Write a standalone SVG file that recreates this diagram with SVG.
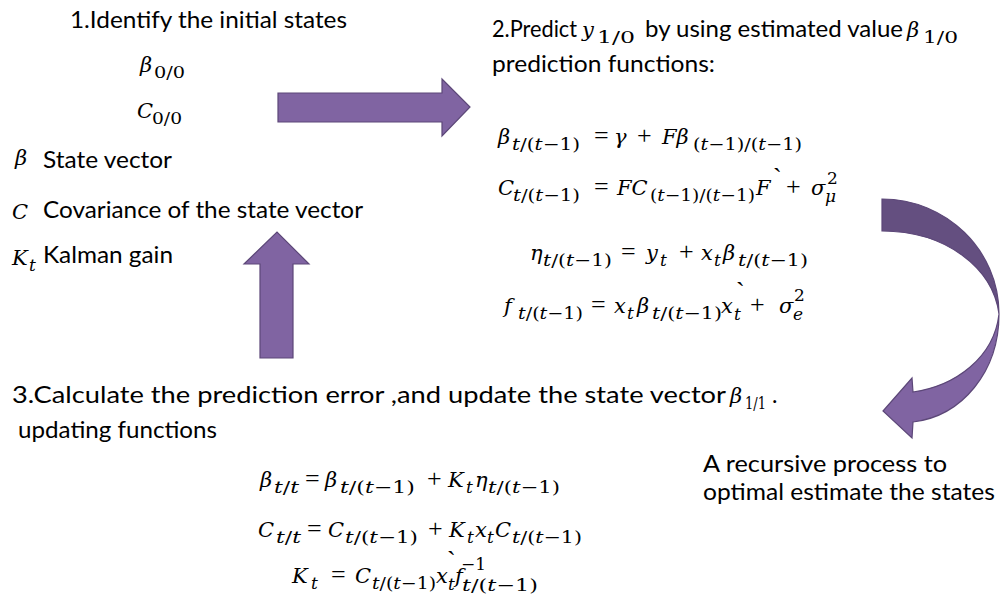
<svg xmlns="http://www.w3.org/2000/svg" width="1000" height="601" viewBox="0 0 1000 601">
<style>
.t{font-family:Lato,"Liberation Sans",sans-serif;font-size:23px;fill:#000}
.m{font-family:"DejaVu Serif","Liberation Serif",serif;font-size:21px;font-style:italic;fill:#000}
.mn{font-family:"Liberation Serif","DejaVu Serif",serif;font-size:26px;fill:#000}
.s{font-family:"DejaVu Serif","Liberation Serif",serif;font-size:17px;font-style:italic;fill:#000}
.sn{font-family:"DejaVu Serif","Liberation Serif",serif;font-size:17px;fill:#000}
.n{font-style:normal}
.arr{fill:#8064a2;stroke:#5c4778;stroke-width:1.2}
.dark{fill:#644f80;stroke:#5c4778;stroke-width:1.2}
</style>
<rect width="1000" height="601" fill="#fff"/>

<g id="step1">
<text class="t" x="70" y="28" textLength="277" lengthAdjust="spacingAndGlyphs">1.Identify the initial states</text>
<text class="m" x="140" y="72">β</text>
<text class="sn" x="154" y="78" textLength="31" lengthAdjust="spacingAndGlyphs">0/0</text>
<text class="m" x="137" y="118">C</text>
<text class="sn" x="152" y="124" textLength="30" lengthAdjust="spacingAndGlyphs">0/0</text>
</g>

<g id="legend">
<text class="m" x="15" y="165">β</text>
<text class="t" x="43" y="168" textLength="129" lengthAdjust="spacingAndGlyphs">State vector</text>
<text class="m" x="12" y="219">C</text>
<text class="t" x="43" y="218" textLength="320" lengthAdjust="spacingAndGlyphs">Covariance of the state vector</text>
<text class="m" x="12" y="265">K</text>
<text class="s" x="29" y="271">t</text>
<text class="t" x="43" y="263" textLength="130" lengthAdjust="spacingAndGlyphs">Kalman gain</text>
</g>

<g id="step2">
<text class="t" x="492" y="37" textLength="85" lengthAdjust="spacingAndGlyphs">2.Predict</text>
<text class="m" x="582" y="37">y</text>
<text class="sn" x="597" y="43" textLength="38" lengthAdjust="spacingAndGlyphs">1/0</text>
<text class="t" x="645" y="37" textLength="258" lengthAdjust="spacingAndGlyphs">by using estimated value</text>
<text class="m" x="907" y="37">β</text>
<text class="sn" x="923" y="43" textLength="35" lengthAdjust="spacingAndGlyphs">1/0</text>
<text class="t" x="492" y="72" textLength="223" lengthAdjust="spacingAndGlyphs">prediction functions:</text>

<g id="eq1">
<text class="m" x="498" y="144">β</text>
<text class="s" x="512" y="150" textLength="68" lengthAdjust="spacingAndGlyphs">t<tspan class="n">/(</tspan>t<tspan class="n">−1)</tspan></text>
<text class="mn" x="594" y="144">=</text>
<text class="m" x="614" y="144">γ</text>
<text class="mn" x="637" y="144">+</text>
<text class="m" x="662" y="144">Fβ</text>
<text class="s" x="693" y="150" textLength="109" lengthAdjust="spacingAndGlyphs"><tspan class="n">(</tspan>t<tspan class="n">−1)/(</tspan>t<tspan class="n">−1)</tspan></text>
</g>

<g id="eq2">
<text class="m" x="498" y="195">C</text>
<text class="s" x="513" y="201" textLength="67" lengthAdjust="spacingAndGlyphs">t<tspan class="n">/(</tspan>t<tspan class="n">−1)</tspan></text>
<text class="mn" x="594" y="195">=</text>
<text class="m" x="617" y="195">FC</text>
<text class="s" x="650" y="201" textLength="105" lengthAdjust="spacingAndGlyphs"><tspan class="n">(</tspan>t<tspan class="n">−1)/(</tspan>t<tspan class="n">−1)</tspan></text>
<text class="m" x="756" y="195">F</text>
<text class="mn" x="773" y="186" font-size="14">`</text>
<text class="mn" x="786" y="195">+</text>
<text class="m" x="811" y="195">σ</text>
<text class="s" x="825" y="202" font-size="14">μ</text>
<text class="sn" x="827" y="184" font-size="14">2</text>
</g>

<g id="eq3">
<text class="m" x="530" y="260">η</text>
<text class="s" x="543" y="266" textLength="69" lengthAdjust="spacingAndGlyphs">t<tspan class="n">/(</tspan>t<tspan class="n">−1)</tspan></text>
<text class="mn" x="621" y="260">=</text>
<text class="m" x="646" y="260">y</text>
<text class="s" x="660" y="266">t</text>
<text class="mn" x="679" y="260">+</text>
<text class="m" x="701" y="260">x</text>
<text class="s" x="714" y="266">t</text>
<text class="m" x="723" y="260">β</text>
<text class="s" x="738" y="266" textLength="70" lengthAdjust="spacingAndGlyphs">t<tspan class="n">/(</tspan>t<tspan class="n">−1)</tspan></text>
</g>

<g id="eq4">
<text class="m" x="504" y="313">f</text>
<text class="s" x="518" y="319" textLength="65" lengthAdjust="spacingAndGlyphs">t<tspan class="n">/(</tspan>t<tspan class="n">−1)</tspan></text>
<text class="mn" x="591" y="313">=</text>
<text class="m" x="614" y="313">x</text>
<text class="s" x="627" y="319">t</text>
<text class="m" x="637" y="313">β</text>
<text class="s" x="652" y="319" textLength="70" lengthAdjust="spacingAndGlyphs">t<tspan class="n">/(</tspan>t<tspan class="n">−1)</tspan></text>
<text class="m" x="721" y="313">x</text>
<text class="mn" x="736" y="300" font-size="13">`</text>
<text class="s" x="734" y="320">t</text>
<text class="mn" x="750" y="313">+</text>
<text class="m" x="779" y="313">σ</text>
<text class="s" x="793" y="320" font-size="14">e</text>
<text class="sn" x="794" y="301" font-size="14">2</text>
</g>
</g>

<g id="step3">
<text class="t" x="12" y="403" textLength="714" lengthAdjust="spacingAndGlyphs">3.Calculate the prediction error ,and update the state vector</text>
<text class="m" x="730" y="403">β</text>
<text class="sn" x="745" y="409" textLength="21" lengthAdjust="spacingAndGlyphs">1/1</text>
<text class="t" x="772" y="403">.</text>
<text class="t" x="18" y="438" textLength="199" lengthAdjust="spacingAndGlyphs">updating functions</text>

<g id="eq5">
<text class="m" x="260" y="487">β</text>
<text class="s" x="274" y="493" textLength="25" lengthAdjust="spacingAndGlyphs">t<tspan class="n">/</tspan>t</text>
<text class="mn" x="305" y="487">=</text>
<text class="m" x="325" y="487">β</text>
<text class="s" x="340" y="493" textLength="75" lengthAdjust="spacingAndGlyphs">t<tspan class="n">/(</tspan>t<tspan class="n">−1)</tspan></text>
<text class="mn" x="427" y="487">+</text>
<text class="m" x="448" y="487">K</text>
<text class="s" x="466" y="493">t</text>
<text class="m" x="475" y="487">η</text>
<text class="s" x="488" y="493" textLength="72" lengthAdjust="spacingAndGlyphs">t<tspan class="n">/(</tspan>t<tspan class="n">−1)</tspan></text>
</g>

<g id="eq6">
<text class="m" x="258" y="537">C</text>
<text class="s" x="276" y="543" textLength="25" lengthAdjust="spacingAndGlyphs">t<tspan class="n">/</tspan>t</text>
<text class="mn" x="307" y="537">=</text>
<text class="m" x="328" y="537">C</text>
<text class="s" x="345" y="543" textLength="73" lengthAdjust="spacingAndGlyphs">t<tspan class="n">/(</tspan>t<tspan class="n">−1)</tspan></text>
<text class="mn" x="428" y="537">+</text>
<text class="m" x="449" y="537">K</text>
<text class="s" x="467" y="543">t</text>
<text class="m" x="475" y="537">x</text>
<text class="s" x="487" y="543">t</text>
<text class="m" x="495" y="537">C</text>
<text class="s" x="512" y="543" textLength="70" lengthAdjust="spacingAndGlyphs">t<tspan class="n">/(</tspan>t<tspan class="n">−1)</tspan></text>
</g>

<g id="eq7">
<text class="m" x="292" y="583">K</text>
<text class="s" x="311" y="589">t</text>
<text class="mn" x="331" y="583">=</text>
<text class="m" x="355" y="583">C</text>
<text class="s" x="372" y="589" textLength="64" lengthAdjust="spacingAndGlyphs">t<tspan class="n">/(</tspan>t<tspan class="n">−1)</tspan></text>
<text class="m" x="436" y="583">x</text>
<text class="mn" x="447" y="569" font-size="13">`</text>
<text class="s" x="448" y="590">t</text>
<text class="m" x="455" y="583">f</text>
<text class="sn" x="461" y="570" font-size="14">−1</text>
<text class="s" x="462" y="591" textLength="76" lengthAdjust="spacingAndGlyphs">t<tspan class="n">/(</tspan>t<tspan class="n">−1)</tspan></text>
</g>
</g>

<g id="note">
<text class="t" x="703" y="472" textLength="244" lengthAdjust="spacingAndGlyphs">A recursive  process to</text>
<text class="t" x="703" y="500" textLength="292" lengthAdjust="spacingAndGlyphs">optimal estimate the states</text>
</g>

<g id="connectors">
<polygon class="arr" points="278,93 442,93 442,79 470,107 442,136 442,122 278,122"/>
<polygon class="arr" points="260,358 260,264 244,264 277,232 309,264 293,264 293,358"/>
<path class="dark" d="M882,199 C946,199 999,250 999,314 C993,268 946,231 882,231 Z"/>
<path class="arr" d="M999,314 C999,372 962,416 913,422 L912,438 L883,411 L912,378 L913,392 C955,386 994,358 999,314 Z"/>
</g>
</svg>
